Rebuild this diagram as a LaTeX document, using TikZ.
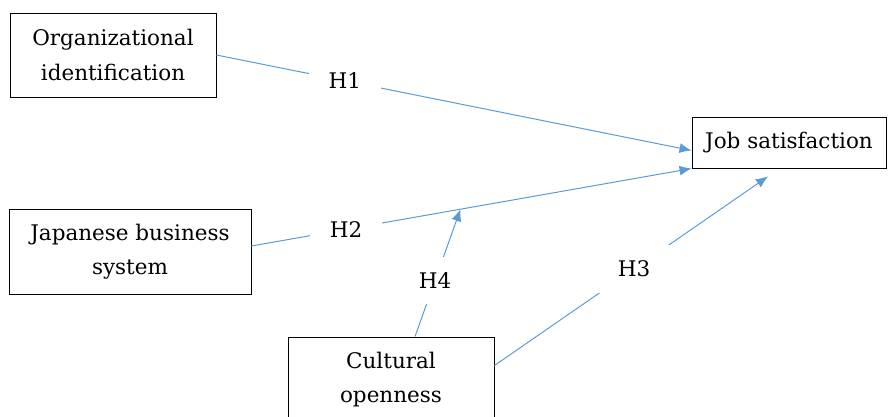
\documentclass[tikz,border=0pt]{standalone}
\usepackage{fontspec}
\setmainfont{DejaVu Serif}
\usetikzlibrary{arrows.meta,calc}

\definecolor{linkblue}{RGB}{91,155,213}

\tikzset{
  varbox/.style={draw=black,line width=0.9pt,rectangle,align=center,
    inner sep=0pt,font=\fontsize{21.5}{34.5}\selectfont},
  link/.style={draw=linkblue,line width=1pt},
  hyp/.style={fill=white,inner xsep=20pt,inner ysep=16pt,
    font=\fontsize{21.5}{24}\selectfont},
}

\begin{document}
\begin{tikzpicture}[x=1pt,y=-1pt]
  \clip (0,0) rectangle (888,416);
  \useasboundingbox (0,0) rectangle (888,416);

  \node[varbox,minimum width=206pt,minimum height=84pt] (org) at (113,55)
    {Organizational\\identification};
  \node[varbox,minimum width=194pt,minimum height=51pt] (job) at (789,142.5)
    {Job satisfaction};
  \node[varbox,minimum width=242pt,minimum height=85pt] (jbs) at (130,251.5)
    {Japanese business\\system};
  \node[varbox,minimum width=206pt,minimum height=85pt] (cult) at (391,379.5)
    {Cultural\\openness};

  % free ends
  \coordinate (h3end) at ([xshift=-21pt,yshift=-8pt]job.south);

  \draw[link,-{Latex[length=12pt,width=10pt]}] (org.east)
    -- node[hyp,pos=0.27] (h1) {H1} ([yshift=-8pt]job.west);
  \draw[link,-{Latex[length=12pt,width=10pt]}] ([yshift=5.5pt]jbs.east)
    -- node[hyp,pos=0.215] (h2) {H2} coordinate[pos=0.475] (mod)
    ([yshift=-26pt]job.west);
  \draw[link,-{Latex[length=12pt,width=10pt]}] ([xshift=24pt]cult.north)
    -- node[hyp,pos=0.44] (h4) {H4} (mod);
  \draw[link,-{Latex[length=12pt,width=10pt]}] ([yshift=14pt]cult.east)
    -- node[hyp,pos=0.51] (h3) {H3} (h3end);
\end{tikzpicture}
\end{document}
